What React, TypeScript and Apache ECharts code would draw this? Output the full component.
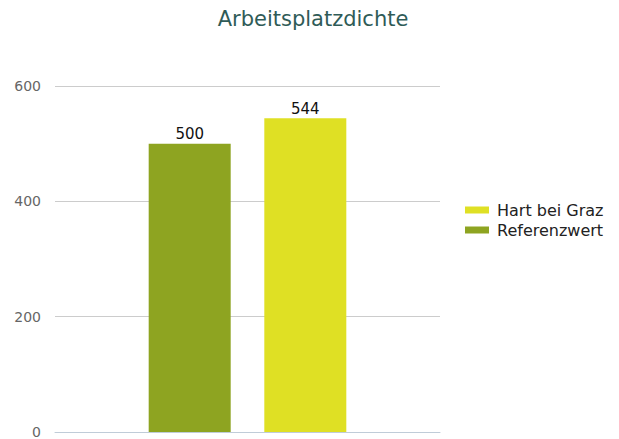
import React, { useEffect, useRef } from "react";
import * as echarts from "echarts";

const categories = ["Arbeitsplatzdichte"];
const seriesNames = ["Referenzwert", "Hart bei Graz"];
const referenzwert = [500];
const hartBeiGraz = [544];
const legendOrder = ["Hart bei Graz", "Referenzwert"];
const yTicks = { min: 0, max: 600, interval: 200 };

export default function App() {
  const ref = useRef<HTMLDivElement>(null);
  useEffect(() => {
    if (!ref.current) return;
    const chart = echarts.init(ref.current, null, { renderer: "svg" });
    const font = "DejaVu Sans";
    chart.setOption({
      animation: false,
      textStyle: { fontFamily: font },
      title: {
        text: "Arbeitsplatzdichte",
        left: 305,
        textAlign: "center",
        top: 0,
        padding: 0,
        textStyle: { fontFamily: font, fontSize: 21, fontWeight: "normal", color: "#2f5b57" },
      },
      legend: {
        data: legendOrder,
        orient: "vertical",
        left: 452,
        top: 189,
        itemWidth: 24,
        itemHeight: 7,
        itemGap: 4,
        icon: "rect",
        textStyle: { fontFamily: font, fontSize: 16, color: "#222", padding: [0, 0, 0, 3] },
      },
      grid: { left: 47, right: 171, top: 78, bottom: 0, containLabel: false },
      xAxis: {
        type: "category",
        data: categories,
        axisLine: { show: true, lineStyle: { color: "#c0ccd8", width: 1 } },
        axisTick: { show: false },
        axisLabel: { show: false },
      },
      yAxis: {
        type: "value",
        min: yTicks.min,
        max: yTicks.max,
        interval: yTicks.interval,
        axisLine: { show: false },
        axisTick: { show: false },
        axisLabel: { fontFamily: font, fontSize: 14, color: "#666", margin: 14 },
        splitLine: { lineStyle: { color: "#cccccc", width: 1 } },
      },
      series: [
        {
          name: seriesNames[0],
          type: "bar",
          data: referenzwert,
          barWidth: 82,
          barGap: "41%",
          itemStyle: { color: "#8ea421" },
          label: { show: true, position: "top", distance: 2, fontFamily: font, fontSize: 15, color: "#111" },
        },
        {
          name: seriesNames[1],
          type: "bar",
          data: hartBeiGraz,
          barWidth: 82,
          barGap: "41%",
          itemStyle: { color: "#dfe024" },
          label: { show: true, position: "top", distance: 2, fontFamily: font, fontSize: 15, color: "#111" },
        },
      ],
    });
    return () => chart.dispose();
  }, []);
  return <div ref={ref} style={{ width: 603, height: 431 }} />;
}
